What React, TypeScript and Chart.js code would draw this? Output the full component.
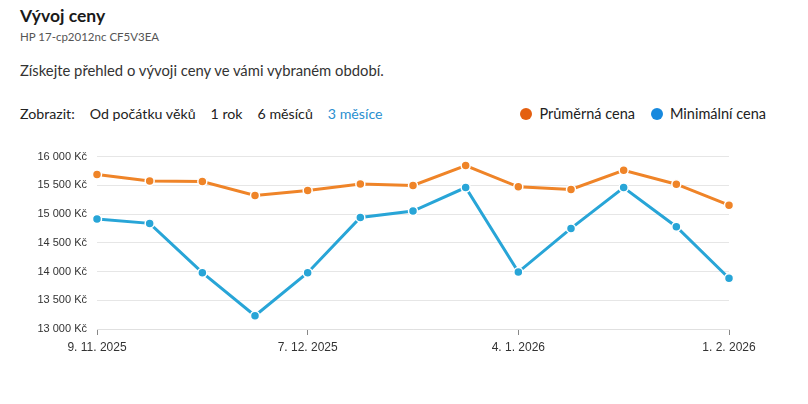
import React, { useEffect, useRef } from "react";
import { Chart, registerables } from "chart.js";

Chart.register(...registerables);

const dates = [
  "9. 11. 2025", "16. 11. 2025", "23. 11. 2025", "30. 11. 2025",
  "7. 12. 2025", "14. 12. 2025", "21. 12. 2025", "28. 12. 2025",
  "4. 1. 2026", "11. 1. 2026", "18. 1. 2026", "25. 1. 2026", "1. 2. 2026",
];
const averagePrice = [15690, 15575, 15566, 15324, 15410, 15523, 15497, 15844, 15474, 15428, 15762, 15520, 15155];
const minimumPrice = [14913, 14838, 13980, 13231, 13980, 14942, 15052, 15462, 13990, 14751, 15462, 14780, 13884];
const periods = ["Od počátku věků", "1 rok", "6 měsíců", "3 měsíce"];
const seriesNames = ["Průměrná cena", "Minimální cena"];

const ORANGE = "#ef8428";
const BLUE = "#28a5d7";
const FONT = "Lato, 'Noto Sans', sans-serif";

const fmt = (v: number) => String(v).replace(/\B(?=(\d{3})+(?!\d))/g, " ") + " Kč";

export default function App() {
  const ref = useRef<HTMLCanvasElement | null>(null);
  useEffect(() => {
    document.body.style.margin = "0";
    if (!ref.current) return;
    const H = 222;
    const chart = new Chart(ref.current, {
      type: "line",
      data: {
        labels: dates,
        datasets: [
          {
            label: seriesNames[0],
            data: averagePrice,
            borderColor: ORANGE,
            backgroundColor: ORANGE,
            pointBackgroundColor: ORANGE,
            pointBorderColor: "#fff",
            pointBorderWidth: 1.5,
            pointRadius: 4.5,
            borderWidth: 3,
            tension: 0,
          },
          {
            label: seriesNames[1],
            data: minimumPrice,
            borderColor: BLUE,
            backgroundColor: BLUE,
            pointBackgroundColor: BLUE,
            pointBorderColor: "#fff",
            pointBorderWidth: 1.5,
            pointRadius: 4.5,
            borderWidth: 3,
            tension: 0,
          },
        ],
      },
      options: {
        animation: false,
        responsive: false,
        maintainAspectRatio: false,
        layout: { padding: { top: 16, right: 79, left: 0, bottom: 0 } },
        plugins: { legend: { display: false }, tooltip: { enabled: false } },
        scales: {
          x: {
            type: "category",
            offset: false,
            grid: {
              drawOnChartArea: false,
              drawTicks: true,
              tickLength: 6,
              tickColor: (ctx: any) => (ctx.index % 4 === 0 ? "#888" : "rgba(0,0,0,0)"),
            },
            border: { display: true, color: "#e0e0e0" },
            ticks: {
              autoSkip: false,
              maxRotation: 0,
              minRotation: 0,
              padding: 5,
              color: "#333",
              font: { family: "'Liberation Sans', Arial, sans-serif", size: 12 },
              callback: (_v: any, i: number) => (i % 4 === 0 ? dates[i] : ""),
            },
            afterFit: (s: any) => { s.height = H - 189; },
          },
          y: {
            min: 13000,
            max: 16000,
            grid: { color: "#e6e6e6", drawTicks: false, lineWidth: 1 },
            border: { display: false },
            ticks: {
              stepSize: 500,
              padding: 10,
              color: "#333",
              font: { family: "'Liberation Sans', Arial, sans-serif", size: 11 },
              callback: (v: any) => fmt(Number(v)),
            },
            afterFit: (s: any) => { s.width = 97; },
          },
        },
      },
    } as any);
    return () => chart.destroy();
  }, []);

  return (
    <div style={{ position: "relative", width: 808, height: 404, fontFamily: FONT, color: "#222" }}>
      <div style={{ position: "absolute", left: 20, top: 5, fontSize: 17.5, fontWeight: 700, color: "#1a1a1a" }}>Vývoj ceny</div>
      <div style={{ position: "absolute", left: 20, top: 30, fontSize: 11.5, color: "#555" }}>HP 17-cp2012nc CF5V3EA</div>
      <div style={{ position: "absolute", left: 20, top: 61, fontSize: 14.8, color: "#333" }}>
        Získejte přehled o vývoji ceny ve vámi vybraném období.
      </div>
      <div style={{ position: "absolute", left: 20, top: 105, fontSize: 14.2, color: "#222", display: "flex", gap: 15, whiteSpace: "nowrap" }}>
        <span>Zobrazit:</span>
        {periods.map((p, i) => (
          <span key={p} style={{ color: i === periods.length - 1 ? "#2a8fd0" : "#222" }}>{p}</span>
        ))}
      </div>
      <div style={{ position: "absolute", right: 42, top: 105, fontSize: 14.5, color: "#222", display: "flex", gap: 16, alignItems: "center", whiteSpace: "nowrap" }}>
        {seriesNames.map((n, i) => (
          <span key={n} style={{ display: "flex", alignItems: "center", gap: 7 }}>
            <span style={{ width: 12, height: 12, borderRadius: 6, background: i === 0 ? "#e45f10" : "#1789de", display: "inline-block" }} />
            {n}
          </span>
        ))}
      </div>
      <canvas ref={ref} width={808} height={222} style={{ position: "absolute", left: 0, top: 140, width: 808, height: 222 }} />
    </div>
  );
}
